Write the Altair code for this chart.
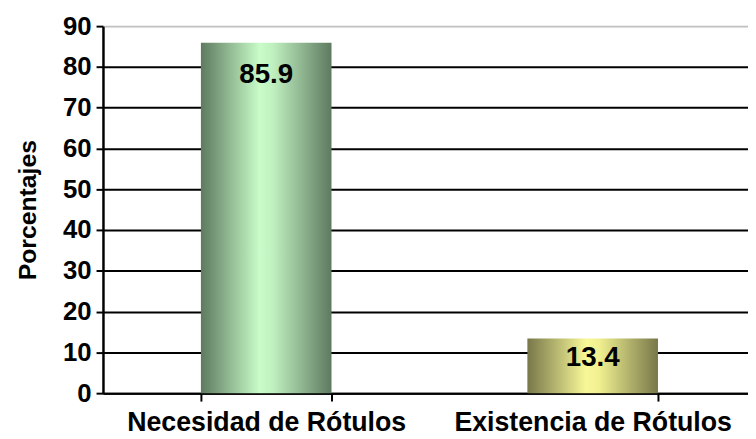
import altair as alt
import pandas as pd

categories = ["Necesidad de Rótulos", "Existencia de Rótulos"]
values = [85.9, 13.4]
labels = ["85.9", "13.4"]

df = pd.DataFrame({"cat": categories, "val": values, "lab": labels})

green = alt.Gradient(gradient="linear", x1=0, x2=1, y1=0, y2=0, stops=[
    alt.GradientStop(color="#5e7a60", offset=0),
    alt.GradientStop(color="#c8fcc8", offset=0.45),
    alt.GradientStop(color="#c0f0c0", offset=0.55),
    alt.GradientStop(color="#5e7a60", offset=1),
])
yellow = alt.Gradient(gradient="linear", x1=0, x2=1, y1=0, y2=0, stops=[
    alt.GradientStop(color="#77774a", offset=0),
    alt.GradientStop(color="#f8f898", offset=0.45),
    alt.GradientStop(color="#f0f090", offset=0.55),
    alt.GradientStop(color="#77774a", offset=1),
])

FONT = "Liberation Sans"

x_enc = alt.X("cat:N", sort=categories, title=None,
              scale=alt.Scale(paddingInner=0.6, paddingOuter=0.3, range=[0, 660]),
              axis=alt.Axis(labelAngle=0, labelFont=FONT, labelFontWeight="bold",
                            labelFontSize=27, labelColor="black", labelPadding=9,
                            labelLimit=0, labelBaseline="top",
                            tickBand="extent", tickSize=8, tickColor="black", tickWidth=2,
                            domainColor="black", domainWidth=2))
y_enc = alt.Y("val:Q", title="Porcentajes",
              scale=alt.Scale(domain=[0, 90], nice=False),
              axis=alt.Axis(values=list(range(0, 100, 10)), labelFont=FONT,
                            labelFontWeight="bold", labelFontSize=26, labelColor="black",
                            labelPadding=5, tickSize=7, tickColor="black", tickWidth=2,
                            domainColor="black", domainWidth=2.5,
                            grid=True,
                            gridColor=alt.condition("datum.value == 90", alt.value("#c0c0c0"), alt.value("black")),
                            gridWidth=2,
                            titleFont=FONT, titleFontWeight="bold",
                            titleFontSize=25, titleColor="black", titlePadding=22))

base = alt.Chart(df)

bar1 = base.transform_filter(alt.datum.cat == categories[0]).mark_bar(color=green).encode(x=x_enc, y=y_enc)
bar2 = base.transform_filter(alt.datum.cat == categories[1]).mark_bar(color=yellow).encode(x=x_enc, y=y_enc)

txt_style = dict(font=FONT, fontWeight="bold", fontSize=28, color="black", baseline="middle")
t1 = base.transform_filter(alt.datum.cat == categories[0]).mark_text(dy=33, **txt_style).encode(
    x=alt.X("cat:N", sort=categories), y="val:Q", text="lab:N")
t2 = base.transform_filter(alt.datum.cat == categories[1]).mark_text(dy=20, **txt_style).encode(
    x=alt.X("cat:N", sort=categories), y="val:Q", text="lab:N")

chart = alt.layer(bar1, bar2, t1, t2).properties(
    width=652, height=371, autosize="none",
    padding={"left": 96, "top": 16, "right": 0, "bottom": 44},
    background="white",
).configure_view(stroke=None)

chart.save("out.html", embed_options={"renderer": "svg", "actions": False})
